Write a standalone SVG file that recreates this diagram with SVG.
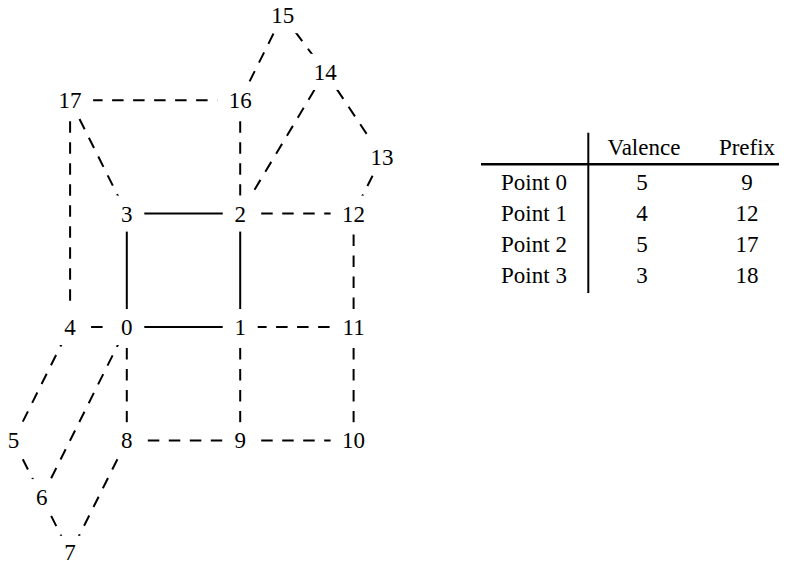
<svg xmlns="http://www.w3.org/2000/svg" width="789" height="561" viewBox="0 0 789 561">
  <style>
    .edge { stroke: #000; stroke-width: 2; fill: none; }
    .dash { stroke-dasharray: 11.5 9.5; }
    .box { fill: #fff; stroke: none; }
    text { font-family: "Liberation Serif", "Times New Roman", serif; font-size: 23px; fill: #000; }
    .lbl { text-anchor: middle; }
    .rule { stroke: #000; fill: none; }
  </style>

  <rect width="789" height="561" fill="#fff"/>

  <!-- connectors: drawn centre to centre, label boxes sit on top -->
  <g id="connectors">
    <line class="edge" x1="126.8" y1="213.6" x2="240.2" y2="213.6"/>
    <line class="edge" x1="126.8" y1="213.6" x2="126.8" y2="327"/>
    <line class="edge" x1="126.8" y1="327" x2="240.2" y2="327"/>
    <line class="edge" x1="240.2" y1="213.6" x2="240.2" y2="327"/>

    <line class="edge dash" x1="70.1" y1="100.2" x2="240.2" y2="100.2"/>
    <line class="edge dash" x1="70.1" y1="100.2" x2="126.8" y2="213.6"/>
    <line class="edge dash" x1="70.1" y1="100.2" x2="70.1" y2="327"/>
    <line class="edge dash" x1="240.2" y1="100.2" x2="240.2" y2="213.6"/>
    <line class="edge dash" x1="240.2" y1="100.2" x2="282.7" y2="15.15"/>
    <line class="edge dash" x1="282.7" y1="15.15" x2="325.3" y2="71.85"/>
    <line class="edge dash" x1="325.3" y1="71.85" x2="240.2" y2="213.6"/>
    <line class="edge dash" x1="325.3" y1="71.85" x2="381.95" y2="156.9"/>
    <line class="edge dash" x1="381.95" y1="156.9" x2="353.6" y2="213.6"/>
    <line class="edge dash" x1="240.2" y1="213.6" x2="353.6" y2="213.6"/>
    <line class="edge dash" x1="353.6" y1="213.6" x2="353.6" y2="327"/>
    <line class="edge dash" x1="70.1" y1="327" x2="126.8" y2="327"/>
    <line class="edge dash" x1="353.6" y1="327" x2="240.2" y2="327" stroke-dashoffset="-3"/>
    <line class="edge dash" x1="13.4" y1="440.4" x2="70.1" y2="327"/>
    <line class="edge dash" x1="41.75" y1="497.1" x2="126.8" y2="327"/>
    <line class="edge dash" x1="126.8" y1="327" x2="126.8" y2="440.4"/>
    <line class="edge dash" x1="240.2" y1="327" x2="240.2" y2="440.4"/>
    <line class="edge dash" x1="353.6" y1="327" x2="353.6" y2="440.4"/>
    <line class="edge dash" x1="126.8" y1="440.4" x2="240.2" y2="440.4"/>
    <line class="edge dash" x1="240.2" y1="440.4" x2="353.6" y2="440.4"/>
    <line class="edge dash" x1="13.4" y1="440.4" x2="41.75" y2="497.1"/>
    <line class="edge dash" x1="41.75" y1="497.1" x2="70.1" y2="553.8"/>
    <line class="edge dash" x1="126.8" y1="440.4" x2="70.1" y2="553.8"/>
  </g>

  <!-- nodes -->
  <g id="n0"><rect class="box" x="109.3" y="309" width="35" height="36"/><text class="lbl" x="126.8" y="335">0</text></g>
  <g id="n1"><rect class="box" x="222.7" y="309" width="35" height="36"/><text class="lbl" x="240.2" y="335">1</text></g>
  <g id="n2"><rect class="box" x="222.7" y="195.6" width="35" height="36"/><text class="lbl" x="240.2" y="221.6">2</text></g>
  <g id="n3"><rect class="box" x="109.3" y="195.6" width="35" height="36"/><text class="lbl" x="126.8" y="221.6">3</text></g>
  <g id="n4"><rect class="box" x="52.6" y="309" width="35" height="36"/><text class="lbl" x="70.1" y="335">4</text></g>
  <g id="n5"><rect class="box" x="-4.1" y="422.4" width="35" height="36"/><text class="lbl" x="13.4" y="448.4">5</text></g>
  <g id="n6"><rect class="box" x="24.25" y="479.1" width="35" height="36"/><text class="lbl" x="41.75" y="505.1">6</text></g>
  <g id="n7"><rect class="box" x="52.6" y="535.8" width="35" height="36"/><text class="lbl" x="70.1" y="559.5">7</text></g>
  <g id="n8"><rect class="box" x="109.3" y="422.4" width="35" height="36"/><text class="lbl" x="126.8" y="448.4">8</text></g>
  <g id="n9"><rect class="box" x="222.7" y="422.4" width="35" height="36"/><text class="lbl" x="240.2" y="448.4">9</text></g>
  <g id="n10"><rect class="box" x="330.6" y="422.4" width="46" height="36"/><text class="lbl" x="353.6" y="448.4">10</text></g>
  <g id="n11"><rect class="box" x="330.6" y="309" width="46" height="36"/><text class="lbl" x="353.6" y="335">11</text></g>
  <g id="n12"><rect class="box" x="330.6" y="195.6" width="46" height="36"/><text class="lbl" x="353.6" y="221.6">12</text></g>
  <g id="n13"><rect class="box" x="358.95" y="138.9" width="46" height="36"/><text class="lbl" x="381.95" y="164.9">13</text></g>
  <g id="n14"><rect class="box" x="302.3" y="53.85" width="46" height="36"/><text class="lbl" x="325.3" y="79.85">14</text></g>
  <g id="n15"><rect class="box" x="259.7" y="-2.85" width="46" height="36"/><text class="lbl" x="282.7" y="23.15">15</text></g>
  <g id="n16"><rect class="box" x="217.2" y="82.2" width="46" height="36"/><text class="lbl" x="240.2" y="108.2">16</text></g>
  <g id="n17"><rect class="box" x="47.1" y="82.2" width="46" height="36"/><text class="lbl" x="70.1" y="108.2">17</text></g>

  <!-- valence / prefix table -->
  <g id="table">
    <line class="rule" x1="588.3" y1="132.7" x2="588.3" y2="293" stroke-width="2"/>
    <line class="rule" x1="481" y1="164.3" x2="779" y2="164.3" stroke-width="2.6"/>
    <text class="lbl" x="644" y="155">Valence</text>
    <text class="lbl" x="747" y="155">Prefix</text>
    <text class="lbl" x="534" y="189.5">Point 0</text>
    <text class="lbl" x="534" y="220.8">Point 1</text>
    <text class="lbl" x="534" y="252">Point 2</text>
    <text class="lbl" x="534" y="283.3">Point 3</text>
    <text class="lbl" x="642" y="189.5">5</text>
    <text class="lbl" x="642" y="220.8">4</text>
    <text class="lbl" x="642" y="252">5</text>
    <text class="lbl" x="642" y="283.3">3</text>
    <text class="lbl" x="747" y="189.5">9</text>
    <text class="lbl" x="747" y="220.8">12</text>
    <text class="lbl" x="747" y="252">17</text>
    <text class="lbl" x="747" y="283.3">18</text>
  </g>
</svg>
